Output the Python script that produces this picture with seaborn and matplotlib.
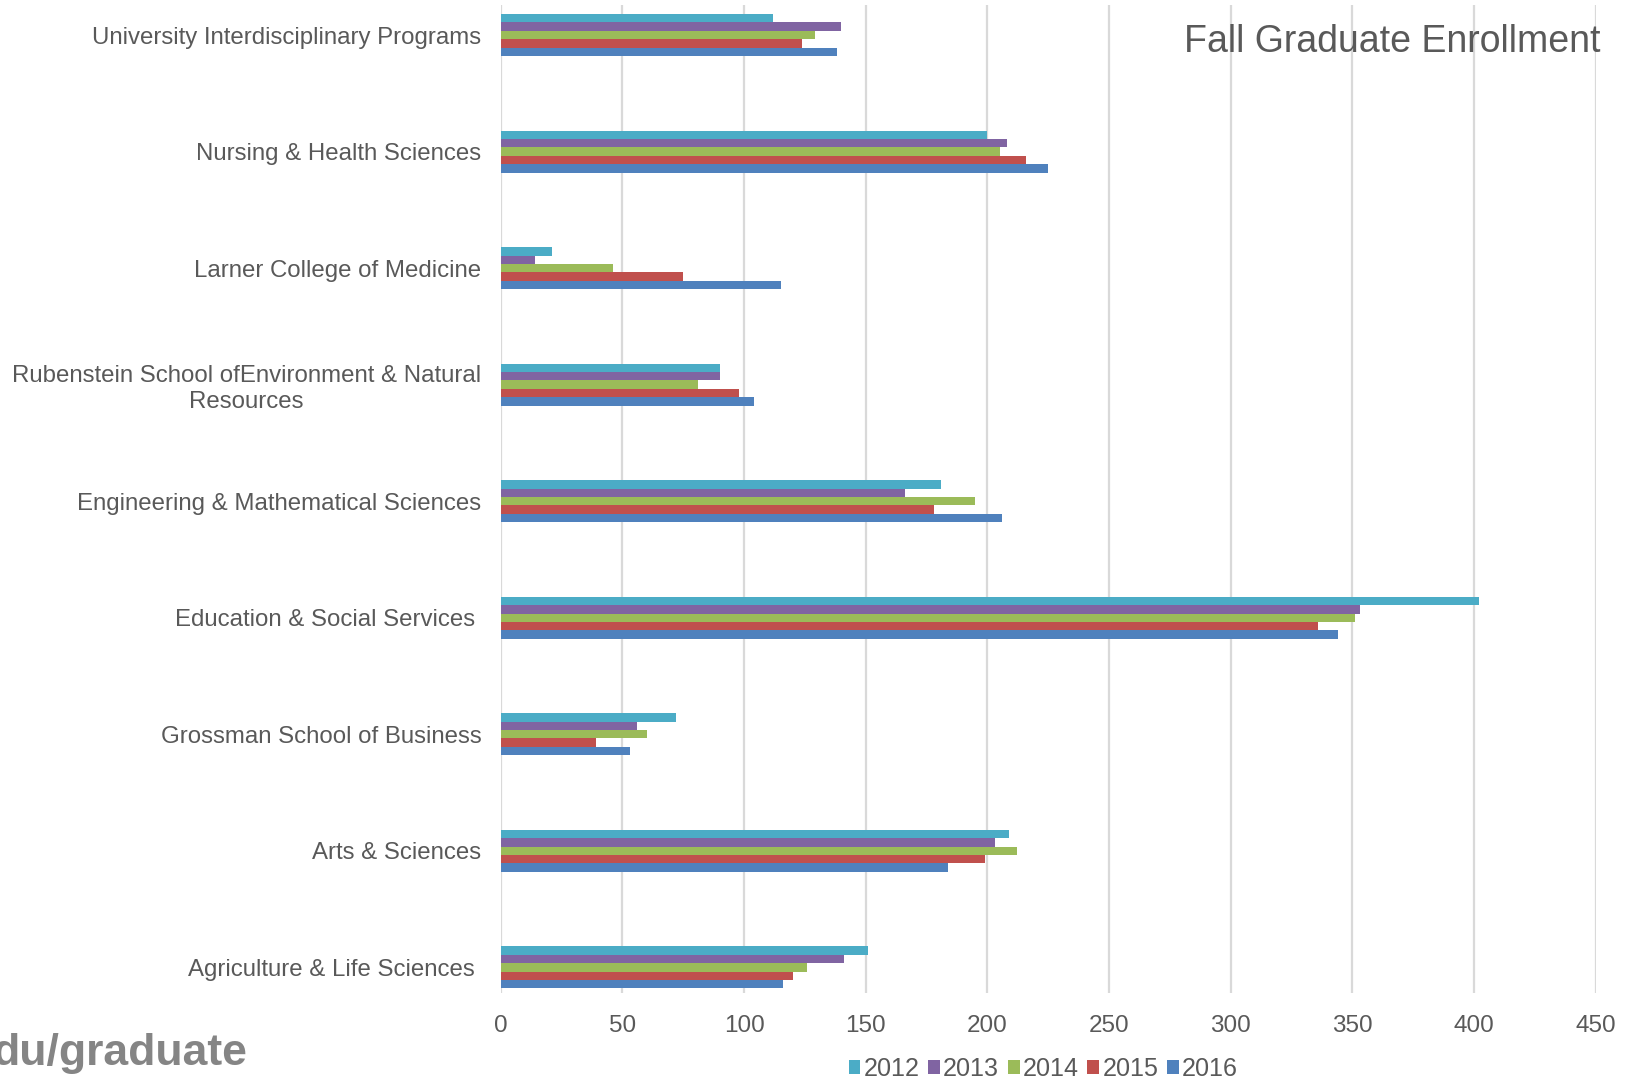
import matplotlib
matplotlib.use("Agg")
import matplotlib.pyplot as plt
import seaborn as sns
import pandas as pd

# data
categories = [
    "University Interdisciplinary Programs",
    "Nursing & Health Sciences",
    "Larner College of Medicine",
    "Rubenstein School ofEnvironment & Natural\nResources",
    "Engineering & Mathematical Sciences",
    "Education & Social Services ",
    "Grossman School of Business",
    "Arts & Sciences",
    "Agriculture & Life Sciences ",
]
years = ["2012", "2013", "2014", "2015", "2016"]
y2012 = [112, 200, 21, 90, 181, 402, 72, 209, 151]
y2013 = [140, 208, 14, 90, 166, 353, 56, 203, 141]
y2014 = [129, 205, 46, 81, 195, 351, 60, 212, 126]
y2015 = [124, 216, 75, 98, 178, 336, 39, 199, 120]
y2016 = [138, 225, 115, 104, 206, 344, 53, 184, 116]
colors = ["#4BACC6", "#8064A2", "#9BBB59", "#C0504D", "#4F81BD"]
xticks = [0, 50, 100, 150, 200, 250, 300, 350, 400, 450]

series = [y2012, y2013, y2014, y2015, y2016]
rows = []
for yr, vals in zip(years, series):
    for cat, v in zip(categories, vals):
        rows.append({"School": cat, "Year": yr, "Enrollment": v})
df = pd.DataFrame(rows)

sns.set_theme(style="white")
plt.rcParams["font.family"] = ["Liberation Sans", "DejaVu Sans"]

fig = plt.figure(figsize=(16.3, 10.79), dpi=100)
ax = fig.add_axes([0.3072, 0.0797, 0.6718, 0.9157])

sns.barplot(data=df, y="School", x="Enrollment", hue="Year", order=categories,
            hue_order=years, palette=colors, saturation=1, orient="h",
            width=0.36, linewidth=0, ax=ax)

ax.set_xlim(0, 450)
ax.set_ylim(8.22, -0.258)
ax.set_xticks(xticks)
ax.set_xticklabels([str(t) for t in xticks])
ax.grid(axis="x", color="#D9D9D9", linewidth=1.6)
ax.set_axisbelow(True)
for s in ax.spines.values():
    s.set_visible(False)
ax.set_xlabel("")
ax.set_ylabel("")
ax.tick_params(axis="x", length=0, pad=16, labelsize=17.5, labelcolor="#595959")
ax.tick_params(axis="y", length=0, pad=14, labelsize=17.3, labelcolor="#595959")
for lab in ax.get_yticklabels():
    lab.set_multialignment("center")

# legend
handles, labels = ax.get_legend_handles_labels()
ax.get_legend().remove()
fig.legend(handles, labels, loc="center", bbox_to_anchor=(0.64, 0.009), ncol=5,
           frameon=False, fontsize=18.1, labelcolor="#595959",
           handlelength=0.47, handleheight=0.47, handletextpad=0.12,
           columnspacing=0.35, borderaxespad=0, borderpad=0)

fig.text(0.9816, 0.952, "Fall Graduate Enrollment", ha="right", va="baseline",
         fontsize=27, color="#595959")
fig.text(0.1515, 0.013, "du/graduate", ha="right", va="baseline",
         fontsize=32, fontweight="bold", color="#858585")

fig.savefig("out.png", dpi=100)
